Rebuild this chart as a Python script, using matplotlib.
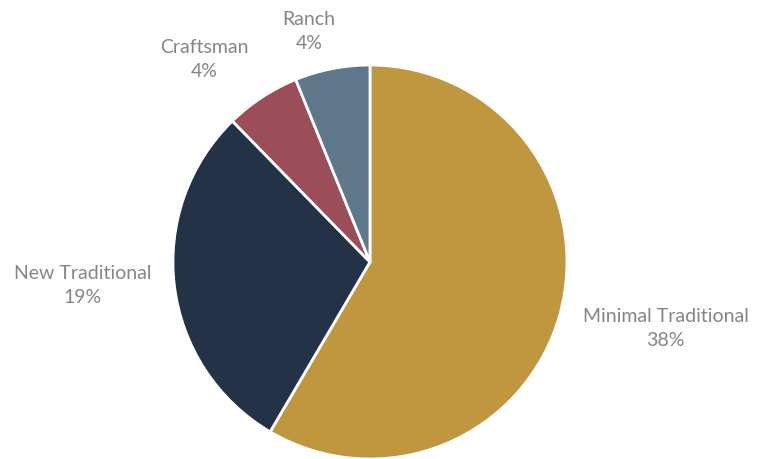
import matplotlib.pyplot as plt

# Données
styles = ["Minimal Traditional", "New Traditional", "Craftsman", "Ranch"]
parts = [38, 19, 4, 4]
couleurs = ["#C0973F", "#243247", "#9B4D5A", "#5F778B"]

# position des étiquettes (coordonnées du camembert, rayon 1)
pos_labels = [(1.50, -0.34), (-1.46, -0.12), (-0.84, 1.03), (-0.31, 1.17)]

fig = plt.figure(figsize=(7.64, 4.59), dpi=100)
ax = fig.add_axes([0.2264, 0.0, 0.5157, 0.8584])

ax.pie(parts, colors=couleurs, startangle=90, counterclock=False, radius=1,
       wedgeprops=dict(edgecolor="white", linewidth=2))

for nom, val, (x, y) in zip(styles, parts, pos_labels):
    ax.text(x, y, "{}\n{}%".format(nom, val), ha="center", va="center",
            fontsize=14, color="#858585", family="Lato", linespacing=1.5,
            clip_on=False)

ax.set_xlim(-1, 1)
ax.set_ylim(-1, 1)
ax.set_aspect("equal")
ax.axis("off")

fig.savefig("out.png", dpi=100)
